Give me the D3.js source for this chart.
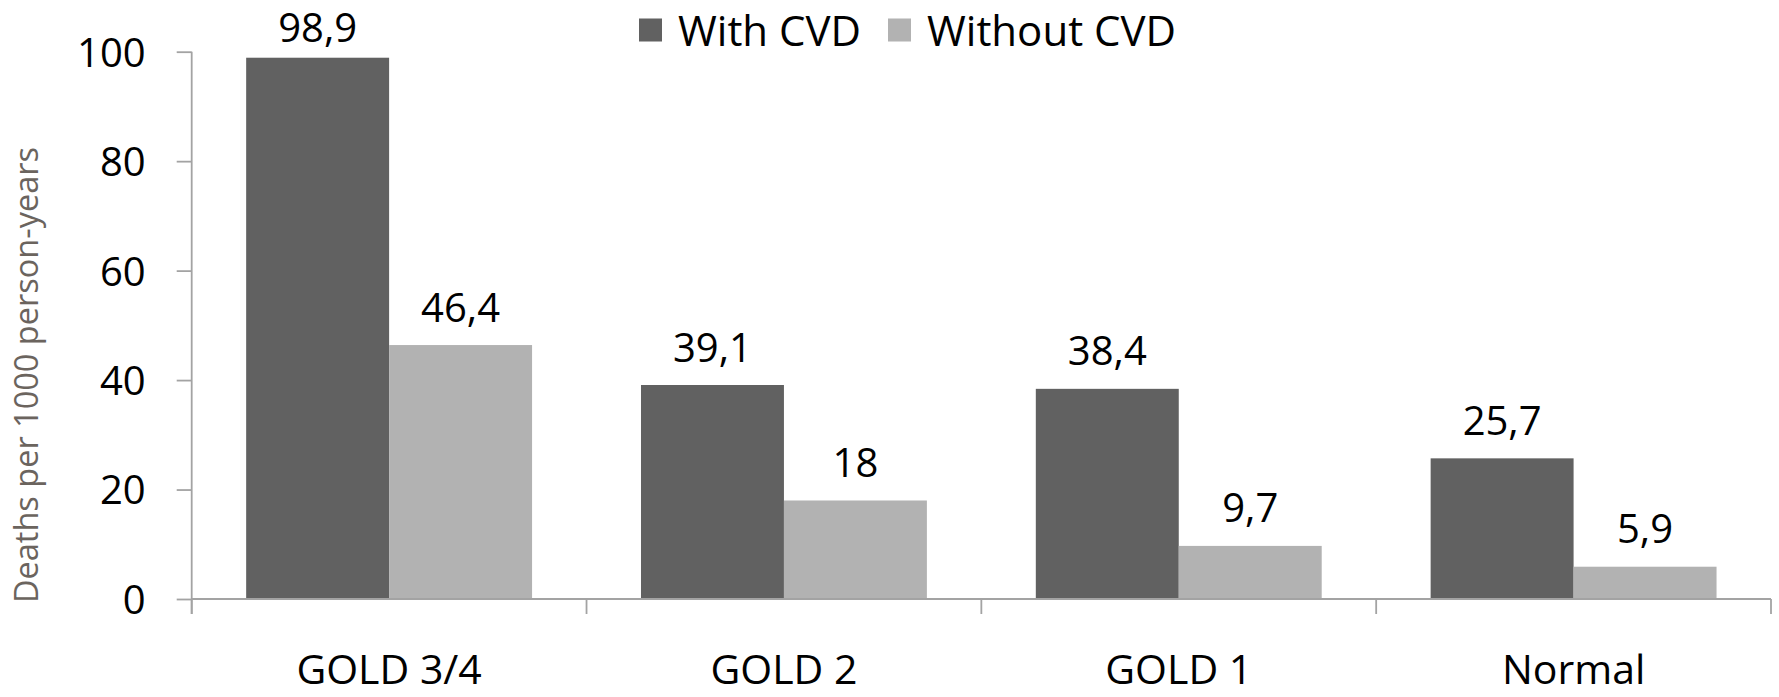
<!DOCTYPE html>
<html>
<head>
<meta charset="utf-8">
<script src="https://cdn.jsdelivr.net/npm/d3@7"></script>
<style>
  html, body { margin: 0; padding: 0; background: #ffffff; }
  svg { display: block; }
  text { font-family: "Open Sans", sans-serif; }
</style>
</head>
<body>
<svg id="chart" width="1779" height="697"></svg>
<script>
// Mortality rates by lung-function group, with and without cardiovascular disease
const categories = ["GOLD 3/4", "GOLD 2", "GOLD 1", "Normal"];
const seriesNames = ["With CVD", "Without CVD"];
const withCVD = [98.9, 39.1, 38.4, 25.7];
const withoutCVD = [46.4, 18, 9.7, 5.9];
const yTicks = [0, 20, 40, 60, 80, 100];
const yTitle = "Deaths per 1000 person-years";

const colors = { "With CVD": "#616161", "Without CVD": "#b2b2b2" };
const axisColor = "#a3a3a3";

const svg = d3.select("#chart");

const plot = { left: 191.7, right: 1771, top: 51.7, bottom: 599 };

const x = d3.scaleBand()
  .domain(categories)
  .range([plot.left, plot.right])
  .padding(0);

const xSub = d3.scaleBand()
  .domain(seriesNames)
  .range([0, x.bandwidth()])
  .paddingInner(0)
  .paddingOuter(0.381);

const y = d3.scaleLinear()
  .domain([0, 100])
  .range([plot.bottom, plot.top]);

const rows = categories.map((c, i) => ({
  category: c,
  values: [
    { series: "With CVD", value: withCVD[i] },
    { series: "Without CVD", value: withoutCVD[i] }
  ]
}));

// Bars
const groups = svg.append("g").selectAll("g")
  .data(rows)
  .join("g")
  .attr("transform", d => `translate(${x(d.category)},0)`);

groups.selectAll("rect")
  .data(d => d.values)
  .join("rect")
  .attr("x", d => xSub(d.series))
  .attr("y", d => y(d.value))
  .attr("width", xSub.bandwidth())
  .attr("height", d => y(0) - y(d.value))
  .attr("fill", d => colors[d.series]);

// Value labels above bars (comma decimal separator)
const fmt = v => String(v).replace(".", ",");
groups.selectAll("text.value")
  .data(d => d.values)
  .join("text")
  .attr("class", "value")
  .attr("x", d => xSub(d.series) + xSub.bandwidth() / 2)
  .attr("y", d => Math.max(y(d.value) - 23.5, 42))
  .attr("text-anchor", "middle")
  .attr("font-size", 40)
  .attr("fill", "#000")
  .text(d => fmt(d.value));

// Y axis
const yAxis = d3.axisLeft(y)
  .tickValues(yTicks)
  .tickSize(15)
  .tickPadding(31)
  .tickFormat(d3.format("d"));

const gy = svg.append("g")
  .attr("transform", `translate(${plot.left},0)`)
  .call(yAxis);
gy.select(".domain").remove();
gy.selectAll(".tick line").attr("stroke", axisColor).attr("stroke-width", 1.8);
gy.selectAll(".tick text")
  .attr("font-family", "Open Sans, sans-serif")
  .attr("font-size", 40)
  .attr("fill", "#000")
  .attr("dy", "0.36em");

// Vertical axis line, continuing down to the category tick length
svg.append("line")
  .attr("x1", plot.left).attr("x2", plot.left)
  .attr("y1", y(100)).attr("y2", plot.bottom + 15)
  .attr("stroke", axisColor).attr("stroke-width", 1.8);

// X axis: baseline with category boundary ticks
const xAxis = d3.axisBottom(x).tickSize(0).tickPadding(0).tickFormat("");
const gx = svg.append("g")
  .attr("transform", `translate(0,${plot.bottom})`)
  .call(xAxis);
gx.select(".domain")
  .attr("d", `M${plot.left},0H${plot.right}`)
  .attr("stroke", axisColor).attr("stroke-width", 1.8);
gx.selectAll(".tick").remove();

const boundaries = categories.map(c => x(c)).concat([x.range()[1]]);
svg.append("g").selectAll("line")
  .data(boundaries)
  .join("line")
  .attr("x1", d => d).attr("x2", d => d)
  .attr("y1", plot.bottom).attr("y2", plot.bottom + 15)
  .attr("stroke", axisColor).attr("stroke-width", 1.8);

// Category labels
svg.append("g").selectAll("text")
  .data(categories)
  .join("text")
  .attr("x", d => x(d) + x.bandwidth() / 2)
  .attr("y", 684)
  .attr("text-anchor", "middle")
  .attr("font-size", 41)
  .attr("fill", "#000")
  .text(d => d);

// Y axis title
svg.append("text")
  .attr("transform", `translate(38,${(147 + 603) / 2}) rotate(-90)`)
  .attr("text-anchor", "middle")
  .attr("font-size", 32.5)
  .attr("fill", "#6b645e")
  .text(yTitle);

// Legend
const legend = svg.append("g");
let lx = 639;
seriesNames.forEach(name => {
  legend.append("rect")
    .attr("x", lx).attr("y", 18.5)
    .attr("width", 23).attr("height", 23)
    .attr("fill", colors[name]);
  const t = legend.append("text")
    .attr("x", lx + 39).attr("y", 45.5)
    .attr("font-size", 42)
    .attr("fill", "#000")
    .text(name);
  lx = lx + 39 + t.node().getComputedTextLength() + 27;
});
</script>
</body>
</html>
